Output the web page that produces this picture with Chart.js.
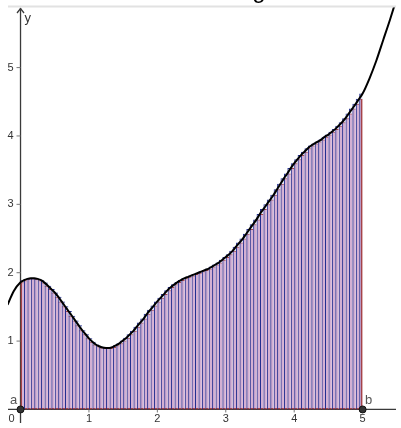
<!DOCTYPE html>
<html>
<head>
<meta charset="utf-8">
<title>Upper and lower sum</title>
<script src="https://cdn.jsdelivr.net/npm/chart.js@4.4.1/dist/chart.umd.min.js"></script>
<style>
    html, body { margin: 0; padding: 0; background: #fff; }
    #wrap { position: relative; width: 401px; height: 428px; }
</style>
</head>
<body>
<div id="wrap"><canvas id="chart"></canvas></div>
<script>
// interval [a, b] split into n strips
const a = 0, b = 5, n = 100;

// f at x = 0, 0.05, 0.10, ... 5.00
const fValues = [
    1.86, 1.89, 1.91, 1.92, 1.92, 1.91, 1.89, 1.855, 1.81, 1.76,
    1.71, 1.65, 1.58, 1.51, 1.44, 1.37, 1.30, 1.23, 1.16, 1.10,
    1.04, 0.99, 0.95, 0.925, 0.905, 0.90, 0.90, 0.915, 0.94, 0.97,
    1.01, 1.05, 1.10, 1.15, 1.21, 1.27, 1.33, 1.40, 1.46, 1.52,
    1.58, 1.635, 1.69, 1.745, 1.79, 1.83, 1.865, 1.895, 1.92, 1.94,
    1.96, 1.98, 2.00, 2.02, 2.04, 2.06, 2.09, 2.12, 2.15, 2.19,
    2.23, 2.27, 2.32, 2.38, 2.44, 2.50, 2.57, 2.64, 2.71, 2.78,
    2.86, 2.93, 3.00, 3.07, 3.14, 3.22, 3.30, 3.38, 3.45, 3.53,
    3.60, 3.66, 3.72, 3.77, 3.82, 3.86, 3.89, 3.92, 3.95, 3.99,
    4.02, 4.06, 4.10, 4.15, 4.20, 4.26, 4.33, 4.40, 4.47, 4.545,
    4.62
];

// the curve outside [a, b]
const tailLeftX = [-0.19, -0.1];
const tailLeftY = [1.53, 1.73];
const tailRightX = [5.1, 5.2, 5.3, 5.4, 5.5];
const tailRightY = [4.84, 5.10, 5.40, 5.70, 6.02];

const xTicks = [1, 2, 3, 4, 5];
const yTicks = [1, 2, 3, 4, 5];
const endLabels = ['a', 'b'];

// view window (GeoGebra graphics view)
const viewX = [-0.183, 5.488];
const viewY = [-0.198, 5.886];

const step = (b - a) / n;
const partX = fValues.map((v, i) => a + i * step);

let upper = [], lower = [];
for (let i = 0; i < n; i++) {
    const mid = partX[i] + step / 2;
    upper.push({ x: mid, y: Math.max(fValues[i], fValues[i + 1]) });
    lower.push({ x: mid, y: Math.min(fValues[i], fValues[i + 1]) });
}

let curve = [];
tailLeftX.forEach((x, i) => curve.push({ x: x, y: tailLeftY[i] }));
partX.forEach((x, i) => curve.push({ x: x, y: fValues[i] }));
tailRightX.forEach((x, i) => curve.push({ x: x, y: tailRightY[i] }));

const FONT = '"Liberation Sans", Arial, sans-serif';

// axes the GeoGebra way: crossing at the origin, drawn under the strips
const axesPlugin = {
    id: 'ggbAxes',
    beforeDatasetsDraw(chart) {
        const ctx = chart.ctx, area = chart.chartArea;
        const sx = chart.scales.x, sy = chart.scales.y;
        const ox = sx.getPixelForValue(0), oy = sy.getPixelForValue(0);
        ctx.save();
        ctx.strokeStyle = '#3a3a3a';
        ctx.lineWidth = 1.3;
        ctx.beginPath();
        ctx.moveTo(area.left, oy); ctx.lineTo(area.right, oy);
        ctx.moveTo(ox, area.bottom); ctx.lineTo(ox, area.top + 1);
        ctx.stroke();
        ctx.beginPath();
        ctx.moveTo(ox - 3.5, area.top + 6); ctx.lineTo(ox, area.top + 1.5); ctx.lineTo(ox + 3.5, area.top + 6);
        ctx.stroke();

        ctx.strokeStyle = '#777';
        ctx.lineWidth = 1;
        ctx.fillStyle = '#333';
        ctx.font = '11px ' + FONT;
        ctx.textAlign = 'center';
        ctx.textBaseline = 'middle';
        xTicks.forEach(v => {
            const px = sx.getPixelForValue(v);
            ctx.beginPath(); ctx.moveTo(px, oy); ctx.lineTo(px, oy + 3); ctx.stroke();
            ctx.fillText(String(v), px, oy + 10);
        });
        yTicks.forEach(v => {
            const py = sy.getPixelForValue(v);
            ctx.beginPath(); ctx.moveTo(ox - 4, py); ctx.lineTo(ox, py); ctx.stroke();
            ctx.fillText(String(v), ox - 10, py);
        });
        ctx.fillText('0', ox - 9, oy + 10);
        ctx.font = '13px ' + FONT;
        ctx.textAlign = 'left';
        ctx.fillText('y', ox + 4, area.top + 11);
        ctx.restore();
    },
    afterDraw(chart) {
        const ctx = chart.ctx, area = chart.chartArea;
        const sx = chart.scales.x, sy = chart.scales.y;
        const oy = sy.getPixelForValue(0);
        ctx.save();
        ctx.fillStyle = '#555';
        ctx.font = '13px ' + FONT;
        ctx.textAlign = 'center';
        ctx.textBaseline = 'middle';
        ctx.fillText(endLabels[0], sx.getPixelForValue(a) - 7, oy - 9);
        ctx.fillText(endLabels[1], sx.getPixelForValue(b) + 6, oy - 9);
        // border of the graphics view and what is left of the title
        ctx.strokeStyle = '#e2e2e2';
        ctx.lineWidth = 2;
        ctx.beginPath(); ctx.moveTo(area.left, area.top - 0.5); ctx.lineTo(area.right, area.top - 0.5); ctx.stroke();
        ctx.fillStyle = '#000';
        ctx.font = '24px ' + FONT;
        ctx.textBaseline = 'alphabetic';
        ctx.fillText('g', 259, -2);
        ctx.restore();
    }
};

new Chart(document.getElementById('chart'), {
    type: 'bar',
    data: {
        datasets: [
            {
                type: 'scatter',
                label: 'a, b',
                data: [{ x: a, y: 0 }, { x: b, y: 0 }],
                pointRadius: 3.5,
                backgroundColor: '#333',
                borderColor: '#111',
                borderWidth: 1,
                order: 0,
                clip: false
            },
            {
                type: 'line',
                label: 'f',
                data: curve,
                borderColor: '#000',
                borderWidth: 2,
                pointRadius: 0,
                fill: false,
                cubicInterpolationMode: 'monotone',
                order: 1
            },
            {
                label: 'upper sum',
                data: upper,
                backgroundColor: 'rgba(70, 110, 220, 0.14)',
                borderColor: '#232f90',
                borderSkipped: false,
                borderWidth: ctx => ({ top: 1, bottom: 0, right: 0, left: ctx.dataIndex === 0 ? 0 : 1 }),
                inflateAmount: 0,
                barPercentage: 1,
                categoryPercentage: 1,
                grouped: false,
                order: 2
            },
            {
                label: 'lower sum',
                data: lower,
                backgroundColor: 'rgba(215, 120, 165, 0.5)',
                borderColor: '#b53c32',
                borderSkipped: false,
                borderWidth: ctx => ({ top: 1, bottom: 1.5, left: ctx.dataIndex === 0 ? 1.5 : 0, right: ctx.dataIndex === n - 1 ? 2 : 0 }),
                inflateAmount: 0,
                barPercentage: 1,
                categoryPercentage: 1,
                grouped: false,
                order: 3
            }
        ]
    },
    options: {
        responsive: true,
        maintainAspectRatio: false,
        animation: false,
        layout: { padding: { left: 8, top: 7, right: 0, bottom: 0 } },
        plugins: { legend: { display: false }, tooltip: { enabled: false }, title: { display: false } },
        scales: {
            x: { type: 'linear', min: viewX[0], max: viewX[1], offset: false, display: false },
            y: { type: 'linear', min: viewY[0], max: viewY[1], display: false }
        }
    },
    plugins: [axesPlugin]
});
</script>
</body>
</html>
